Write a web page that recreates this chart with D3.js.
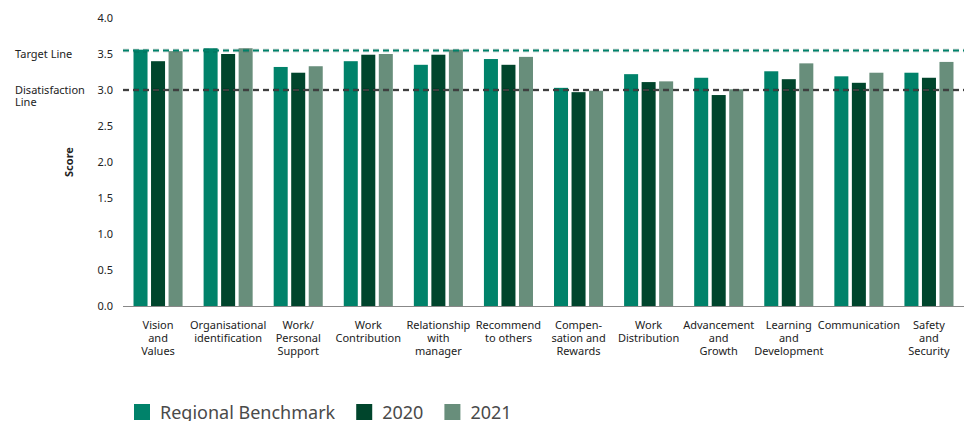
<!DOCTYPE html>
<html>
<head>
<meta charset="utf-8">
<script src="https://cdn.jsdelivr.net/npm/d3@7"></script>
<style>
  body { margin: 0; background: #fff; }
  svg { display: block; font-family: "Noto Sans", "Open Sans", sans-serif; }
</style>
</head>
<body>
<svg id="chart" width="964" height="421"></svg>
<script>
const categories = [
  ["Vision", "and", "Values"],
  ["Organisational", "identification"],
  ["Work/", "Personal", "Support"],
  ["Work", "Contribution"],
  ["Relationship", "with", "manager"],
  ["Recommend", "to others"],
  ["Compen-", "sation and", "Rewards"],
  ["Work", "Distribution"],
  ["Advancement", "and", "Growth"],
  ["Learning", "and", "Development"],
  ["Communication"],
  ["Safety", "and", "Security"]
];
const seriesNames = ["Regional Benchmark", "2020", "2021"];
const seriesColors = ["#00826a", "#00452c", "#688e7b"];
const benchmark = [3.56, 3.58, 3.32, 3.40, 3.35, 3.43, 3.03, 3.22, 3.17, 3.26, 3.19, 3.24];
const y2020     = [3.40, 3.50, 3.24, 3.49, 3.49, 3.35, 2.97, 3.11, 2.93, 3.15, 3.10, 3.17];
const y2021     = [3.54, 3.58, 3.33, 3.50, 3.56, 3.46, 2.99, 3.12, 3.01, 3.37, 3.24, 3.39];
const yTicks = [0, 0.5, 1, 1.5, 2, 2.5, 3, 3.5, 4];
const targetLine = 3.55;
const dissatLine = 3.0;

const values = [benchmark, y2020, y2021];
const svg = d3.select("#chart");

const x0 = d3.scaleBand().domain(d3.range(categories.length)).range([123, 964]);
const x1 = d3.scaleBand().domain(d3.range(3))
  .range([x0.bandwidth() * 0.15, x0.bandwidth() * 0.85]).paddingInner(0.2);
const y = d3.scaleLinear().domain([0, 4]).range([306, 18]);

// bars
const groups = svg.append("g").selectAll("g")
  .data(categories)
  .join("g")
  .attr("transform", (d, i) => `translate(${x0(i)},0)`);

groups.selectAll("rect")
  .data((d, i) => values.map((s, k) => ({k: k, v: s[i]})))
  .join("rect")
  .attr("x", d => x1(d.k))
  .attr("y", d => y(d.v))
  .attr("width", x1.bandwidth())
  .attr("height", d => y(0) - y(d.v))
  .attr("fill", d => seriesColors[d.k]);

// reference lines
function refLine(v, color) {
  svg.append("line")
    .attr("x1", 123).attr("x2", 964)
    .attr("y1", y(v)).attr("y2", y(v))
    .attr("stroke", "#000").attr("stroke-opacity", 0.12)
    .attr("stroke-width", 4).attr("stroke-dasharray", "6,4");
  svg.append("line")
    .attr("x1", 123).attr("x2", 964)
    .attr("y1", y(v)).attr("y2", y(v))
    .attr("stroke", color).attr("stroke-width", 2)
    .attr("stroke-dasharray", "6,4");
}
refLine(targetLine, "#00826a");
refLine(dissatLine, "#3f3f3f");

// y axis labels
svg.append("g").selectAll("text")
  .data(yTicks)
  .join("text")
  .attr("x", 113)
  .attr("y", d => y(d))
  .attr("dy", "0.35em")
  .attr("text-anchor", "end")
  .attr("font-size", 11)
  .attr("fill", "#222")
  .text(d => d.toFixed(1));

svg.append("text")
  .attr("transform", `translate(73,${y(2)}) rotate(-90)`)
  .attr("text-anchor", "middle")
  .attr("font-size", 11)
  .attr("font-weight", "bold")
  .attr("fill", "#222")
  .text("Score");

// baseline
svg.append("line")
  .attr("x1", 123).attr("x2", 964)
  .attr("y1", y(0) + 0.5).attr("y2", y(0) + 0.5)
  .attr("stroke", "#888").attr("stroke-width", 1);

// line labels
svg.append("text").attr("x", 15).attr("y", y(3.5)).attr("dy", "0.35em")
  .attr("font-size", 11).attr("fill", "#222").text("Target Line");
svg.append("text").attr("x", 15).attr("y", y(3.0)).attr("dy", "0.35em")
  .attr("font-size", 11).attr("fill", "#222").text("Disatisfaction");
svg.append("text").attr("x", 15).attr("y", y(3.0) + 12).attr("dy", "0.35em")
  .attr("font-size", 11).attr("fill", "#222").text("Line");

// x labels
svg.append("g").selectAll("text")
  .data(categories)
  .join("text")
  .attr("x", (d, i) => x0(i) + x0.bandwidth() / 2)
  .attr("y", 329)
  .attr("text-anchor", "middle")
  .attr("font-size", 11)
  .attr("fill", "#222")
  .selectAll("tspan")
  .data(d => d)
  .join("tspan")
  .attr("x", function() { return this.parentNode.getAttribute("x"); })
  .attr("dy", (d, i) => i === 0 ? 0 : 13)
  .text(d => d);

// legend
const legend = svg.append("g");
let lx = 134;
seriesNames.forEach((name, k) => {
  legend.append("rect")
    .attr("x", lx).attr("y", 404).attr("width", 16).attr("height", 16)
    .attr("fill", seriesColors[k]);
  const t = legend.append("text")
    .attr("x", lx + 26).attr("y", 419)
    .attr("font-size", 18).attr("fill", "#4a4a4a")
    .text(name);
  lx += 26 + t.node().getComputedTextLength() + 21;
});
</script>
</body>
</html>
